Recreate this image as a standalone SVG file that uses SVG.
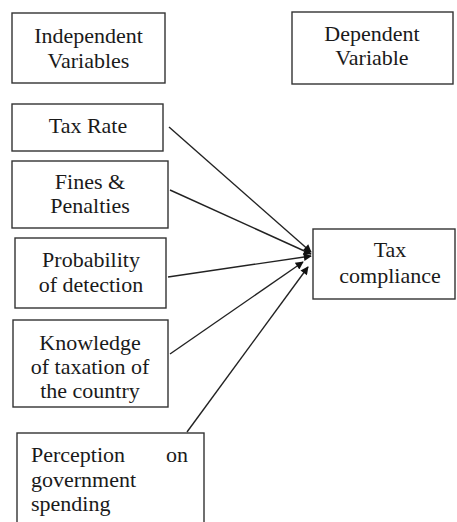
<svg xmlns="http://www.w3.org/2000/svg" width="457" height="522" viewBox="0 0 457 522">
  <style>
    .box { fill: #ffffff; stroke: #333333; stroke-width: 1.4; }
    .lbl { font-family: 'Liberation Serif', 'DejaVu Serif', serif; font-size: 22px; fill: #1a1a1a; }
    .mid { text-anchor: middle; }
    .link { stroke: #222222; stroke-width: 1.4; fill: none; marker-end: url(#head); }
  </style>
  <defs>
    <marker id="head" viewBox="0 0 10 10" refX="9" refY="5" markerWidth="10" markerHeight="8" markerUnits="userSpaceOnUse" orient="auto">
      <path d="M0,0 L10,5 L0,10 z" fill="#111111"/>
    </marker>
  </defs>

  <rect width="457" height="522" fill="#ffffff"/>

  <g id="independent-variables">
    <rect class="box" x="12" y="13" width="153" height="70"/>
    <text class="lbl mid" x="88.5" y="43">Independent</text>
    <text class="lbl mid" x="88.5" y="68">Variables</text>
  </g>

  <g id="dependent-variable">
    <rect class="box" x="292" y="12" width="161" height="72"/>
    <text class="lbl mid" x="372" y="41">Dependent</text>
    <text class="lbl mid" x="372" y="65">Variable</text>
  </g>

  <g id="tax-rate">
    <rect class="box" x="12" y="104" width="151" height="47"/>
    <text class="lbl mid" x="88" y="133">Tax Rate</text>
  </g>

  <g id="fines-penalties">
    <rect class="box" x="12" y="161" width="156" height="67"/>
    <text class="lbl mid" x="90" y="189">Fines &amp;</text>
    <text class="lbl mid" x="90" y="213">Penalties</text>
  </g>

  <g id="probability-of-detection">
    <rect class="box" x="15" y="238" width="151" height="70"/>
    <text class="lbl mid" x="91" y="267">Probability</text>
    <text class="lbl mid" x="91" y="292">of detection</text>
  </g>

  <g id="knowledge-of-taxation">
    <rect class="box" x="13" y="320" width="155" height="87"/>
    <text class="lbl mid" x="90" y="350">Knowledge</text>
    <text class="lbl mid" x="90" y="374">of taxation of</text>
    <text class="lbl mid" x="90" y="398">the country</text>
  </g>

  <g id="perception-on-government-spending">
    <rect class="box" x="17" y="433" width="187" height="100"/>
    <text class="lbl" x="31" y="462">Perception</text>
    <text class="lbl" x="188" y="462" text-anchor="end">on</text>
    <text class="lbl" x="31" y="487">government</text>
    <text class="lbl" x="31" y="511">spending</text>
  </g>

  <g id="tax-compliance">
    <rect class="box" x="313" y="229" width="142" height="70"/>
    <text class="lbl mid" x="390" y="257">Tax</text>
    <text class="lbl mid" x="390" y="283">compliance</text>
  </g>

  <g id="connectors">
    <line class="link" x1="169" y1="127" x2="311" y2="252"/>
    <line class="link" x1="170" y1="190" x2="311" y2="254"/>
    <line class="link" x1="168" y1="277" x2="311" y2="256"/>
    <line class="link" x1="170" y1="354" x2="303" y2="262"/>
    <line class="link" x1="187" y1="432" x2="308" y2="267"/>
  </g>
</svg>
